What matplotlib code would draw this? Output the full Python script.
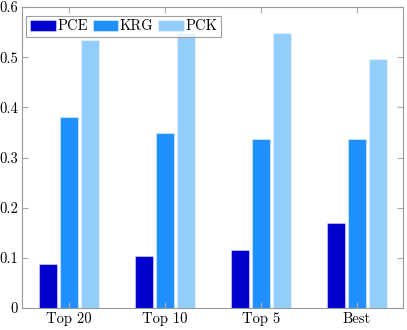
import numpy as np
import matplotlib
matplotlib.use("Agg")
import matplotlib.pyplot as plt

# === DATA ===
groups = ["Top 20", "Top 10", "Top 5", "Best"]
pce = [0.088, 0.104, 0.116, 0.170]
krg = [0.380, 0.349, 0.337, 0.336]
pck = [0.534, 0.548, 0.548, 0.496]
yticks = [0, 0.1, 0.2, 0.3, 0.4, 0.5, 0.6]
ytick_labels = ["0", "0.1", "0.2", "0.3", "0.4", "0.5", "0.6"]

plt.rcParams["font.family"] = ["cmr10", "DejaVu Serif"]
plt.rcParams["axes.formatter.use_mathtext"] = True

fig = plt.figure(figsize=(4.07, 3.3), dpi=100)
ax = fig.add_axes([22 / 407, 22 / 330, 381 / 407, 301 / 330])

x = np.arange(len(groups))
w = 0.19
off = 0.22
series = [("PCE", pce, "#0000CD", -off), ("KRG", krg, "#1E90FF", 0), ("PCK", pck, "#93CEFA", off)]
for name, vals, col, o in series:
    ax.bar(x + o, vals, width=w, color=col, edgecolor=(1, 1, 1, 0.4), linewidth=0.8, label=name)

ax.set_xlim(-0.49, 3.48)
ax.set_ylim(0, 0.6)
ax.set_xticks(x)
ax.set_xticklabels(groups, fontsize=10.5)
ax.set_yticks(yticks)
ax.set_yticklabels(ytick_labels, fontsize=10.5)
ax.tick_params(direction="in", top=True, right=True, length=4, color="#aaaaaa", width=0.8, pad=3)
for s in ax.spines.values():
    s.set_color("#999999")
    s.set_linewidth(0.8)

leg = ax.legend(loc="upper left", ncol=3, fontsize=10.5, frameon=True, fancybox=False,
                handlelength=1.75, handleheight=0.75, handletextpad=0.1, columnspacing=0.35,
                borderpad=0.25, borderaxespad=0.3, bbox_to_anchor=(0.0, 0.985))
leg.get_frame().set_edgecolor("#888888")
leg.get_frame().set_linewidth(0.8)

fig.savefig("out.png", dpi=100)
